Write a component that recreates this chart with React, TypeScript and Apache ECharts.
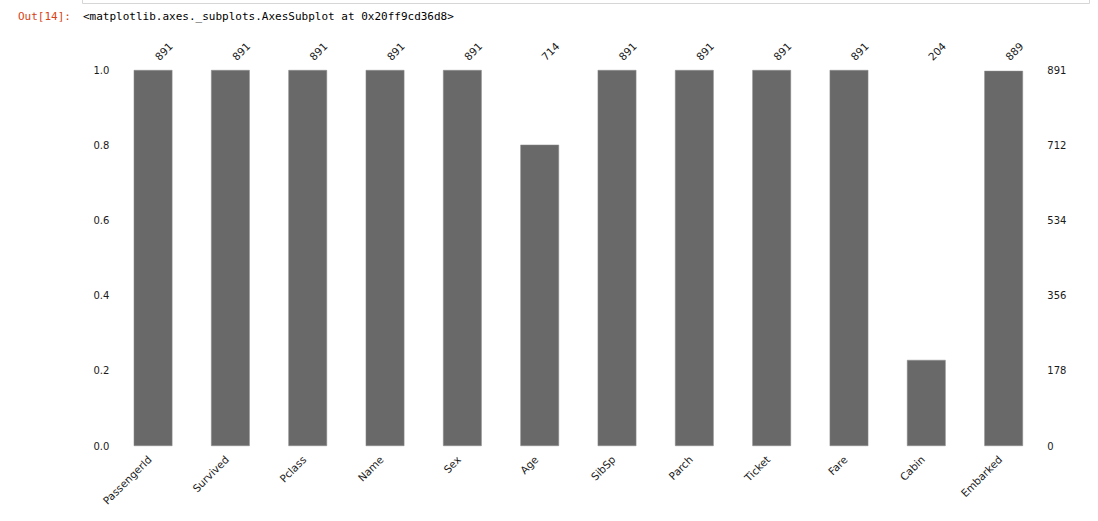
import React, { useEffect, useRef } from "react";
import * as echarts from "echarts";

const columns = ["PassengerId", "Survived", "Pclass", "Name", "Sex", "Age", "SibSp", "Parch", "Ticket", "Fare", "Cabin", "Embarked"];
const counts = [891, 891, 891, 891, 891, 714, 891, 891, 891, 891, 204, 889];
const totalRows = 891;
const leftTickLabels = ["0.0", "0.2", "0.4", "0.6", "0.8", "1.0"];
const rightTickLabels = ["0", "178", "356", "534", "712", "891"];

const fractions = counts.map((c) => c / totalRows);

export default function App() {
  const ref = useRef<HTMLDivElement>(null);
  useEffect(() => {
    const chart = echarts.init(ref.current!, null, { renderer: "svg" });
    const font = "DejaVu Sans";
    const textColor = "#1a1a1a";
    chart.setOption({
      animation: false,
      backgroundColor: "#ffffff",
      grid: { left: 114.4, right: 55.7, top: 70, bottom: 75, containLabel: false },
      xAxis: [
        {
          type: "category",
          position: "bottom",
          data: columns,
          axisLine: { show: false },
          axisTick: { show: false },
          axisLabel: { rotate: 45, fontSize: 10.5, fontFamily: font, color: textColor, margin: 8, interval: 0, padding: [0, 5, 0, 0] },
        },
        {
          type: "category",
          position: "top",
          data: counts.map(String),
          axisLine: { show: false },
          axisTick: { show: false },
          axisLabel: { rotate: 45, fontSize: 10.5, fontFamily: font, color: textColor, margin: 8, interval: 0, padding: [0, 0, 0, 5] },
        },
      ],
      yAxis: [
        {
          type: "value",
          position: "left",
          min: 0,
          max: 1,
          interval: 0.2,
          axisLine: { show: false },
          axisTick: { show: false },
          splitLine: { show: false },
          axisLabel: {
            fontSize: 10,
            fontFamily: font,
            color: textColor,
            margin: 5,
            formatter: (v: number) => leftTickLabels[Math.round(v / 0.2)] ?? "",
          },
        },
        {
          type: "value",
          position: "right",
          min: 0,
          max: 1,
          interval: 0.2,
          axisLine: { show: false },
          axisTick: { show: false },
          splitLine: { show: false },
          axisLabel: {
            fontSize: 10,
            fontFamily: font,
            color: textColor,
            margin: 5,
            formatter: (v: number) => rightTickLabels[Math.round(v / 0.2)] ?? "",
          },
        },
      ],
      series: [
        {
          type: "bar",
          xAxisIndex: 0,
          yAxisIndex: 0,
          data: fractions,
          barWidth: "50%",
          itemStyle: { color: "#696969", borderColor: "#8c8c8c", borderWidth: 0.5 },
        },
      ],
      graphic: [
        {
          type: "polyline",
          shape: { points: [[82.5, 0], [82.5, 3.5], [1089.5, 3.5], [1089.5, 0]] },
          style: { stroke: "#d6d6d6", fill: "none", lineWidth: 1 },
        },
        {
          type: "text",
          left: 18,
          top: 11,
          style: { text: "Out[14]:", fill: "#D84315", font: "11px 'DejaVu Sans Mono'" },
        },
        {
          type: "text",
          left: 83,
          top: 11,
          style: { text: "<matplotlib.axes._subplots.AxesSubplot at 0x20ff9cd36d8>", fill: "#000000", font: "11px 'DejaVu Sans Mono'" },
        },
      ],
    });
    return () => chart.dispose();
  }, []);
  return <div ref={ref} style={{ position: "fixed", left: 0, top: 0, width: 1098, height: 521 }} />;
}
